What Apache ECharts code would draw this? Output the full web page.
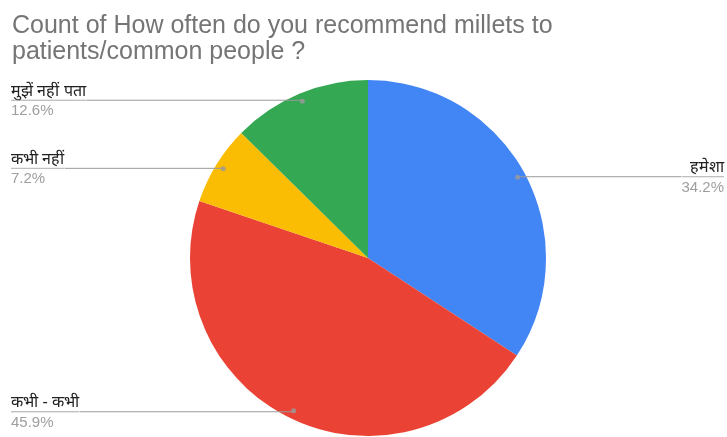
<!DOCTYPE html>
<html>
<head>
<meta charset="utf-8">
<script src="https://cdn.jsdelivr.net/npm/echarts@6/dist/echarts.min.js"></script>
<style>
  html, body { margin: 0; padding: 0; background: #fff; }
  #chart { width: 727px; height: 437px; }
</style>
</head>
<body>
<div id="chart"></div>
<script>
// Answer categories and their shares (percent of responses)
const categories = ['हमेशा', 'कभी - कभी', 'कभी नहीं', 'मुझें नहीं पता'];
const shares = [34.2, 45.9, 7.2, 12.6];
const colors = ['#4285F4', '#EA4335', '#FBBC04', '#34A853'];
const titleText = 'Count of How often do you recommend millets to\npatients/common people ?';

const CX = 368, CY = 258, R = 178, DOT_R = 170;
const total = shares.reduce((a, b) => a + b, 0);
const FONT = 'Arial, "Liberation Sans", sans-serif';

// Angle (as a share of the full circle) at the middle of each slice
const midShares = [];
let acc = 0;
shares.forEach(v => { midShares.push(acc + v / 2); acc += v; });

const pieData = categories.map((name, i) => ({
  name: name,
  value: shares[i],
  itemStyle: { color: colors[i] }
}));

const labelData = categories.map((name, i) => {
  const rightSide = midShares[i] < total / 2;
  return {
    name: name,
    value: shares[i],
    label: { edgeDistance: rightSide ? 3 : 11 }
  };
});

const chart = echarts.init(document.getElementById('chart'), null, { renderer: 'canvas' });
chart.setOption({
  backgroundColor: '#ffffff',
  animation: false,
  title: {
    text: titleText,
    left: 7,
    top: 8,
    textStyle: {
      fontFamily: FONT,
      fontSize: 25,
      fontWeight: 'normal',
      color: '#757575',
      lineHeight: 26
    }
  },
  polar: { center: [CX, CY], radius: R },
  angleAxis: { type: 'value', min: 0, max: total, startAngle: 90, clockwise: true, show: false },
  radiusAxis: { type: 'value', min: 0, max: R, show: false },
  series: [
    {
      type: 'pie',
      center: [CX, CY],
      radius: [0, R],
      startAngle: 90,
      clockwise: true,
      silent: true,
      z: 1,
      label: { show: false },
      labelLine: { show: false },
      itemStyle: { borderWidth: 0 },
      data: pieData
    },
    {
      type: 'pie',
      center: [CX, CY],
      radius: [0, DOT_R],
      startAngle: 90,
      clockwise: true,
      silent: true,
      z: 2,
      itemStyle: { color: 'rgba(0,0,0,0)', borderWidth: 0 },
      label: {
        show: true,
        position: 'outside',
        alignTo: 'edge',
        distanceToLabelLine: 0,
        padding: [4, 0, 0, 0],
        fontFamily: FONT,
        formatter: p => '{n|' + p.name + '}\n{hr|}\n{p|' + p.value.toFixed(1) + '%}',
        rich: {
          n: { fontSize: 16, color: '#222222', lineHeight: 18, fontFamily: FONT },
          hr: { width: '100%', height: 0, borderWidth: 0.5, borderColor: '#9a9a9a' },
          p: { fontSize: 15, color: '#9e9e9e', lineHeight: 22, fontFamily: FONT }
        }
      },
      labelLine: {
        show: true,
        length: 1,
        length2: 10,
        lineStyle: { color: '#9a9a9a', width: 1 }
      },
      data: labelData
    },
    {
      type: 'scatter',
      coordinateSystem: 'polar',
      silent: true,
      z: 3,
      symbol: 'circle',
      symbolSize: 5,
      itemStyle: { color: '#9a9a9a' },
      data: midShares.map(m => [DOT_R, m])
    }
  ]
});
</script>
</body>
</html>
